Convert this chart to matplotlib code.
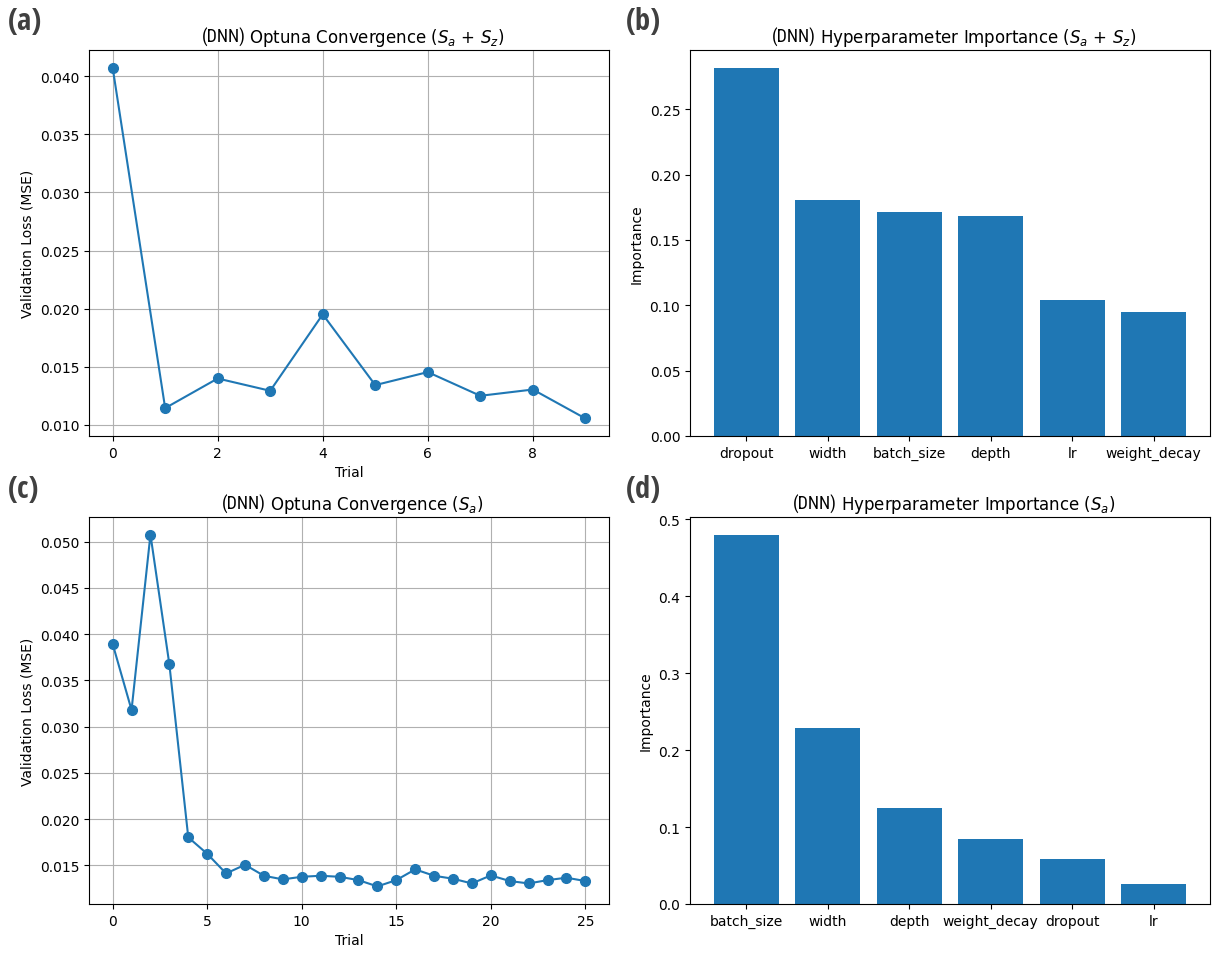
import matplotlib.pyplot as plt
from matplotlib import font_manager

# optuna results for the DNN model
trials_az = list(range(10))
loss_az = [0.04075, 0.01144, 0.01399, 0.01293, 0.01951, 0.01342, 0.01454, 0.01250, 0.01304, 0.01055]

params_az = ["dropout", "width", "batch_size", "depth", "lr", "weight_decay"]
imp_az = [0.2813, 0.1804, 0.1713, 0.1682, 0.1040, 0.0948]

trials_a = list(range(26))
loss_a = [0.03895, 0.0318, 0.05076, 0.03673, 0.01803, 0.01626, 0.01413, 0.01507,
          0.01388, 0.01349, 0.01377, 0.01388, 0.01377, 0.01341, 0.01273, 0.01341,
          0.01457, 0.01388, 0.01356, 0.01305, 0.01392, 0.01331, 0.01305, 0.01341,
          0.01367, 0.01331]

params_a = ["batch_size", "width", "depth", "weight_decay", "dropout", "lr"]
imp_a = [0.479, 0.229, 0.125, 0.0846, 0.0586, 0.026]

# pick a condensed family for the labels, whichever is around
fonts = font_manager.fontManager.ttflist
bold_names = {f.name for f in fonts if f.weight in (700, "bold")}
regular_names = {f.name for f in fonts if f.weight in (400, "normal", "regular") and f.style == "normal"}
wish = ["Open Sans Condensed", "Roboto Condensed", "Fira Sans Condensed",
        "IBM Plex Sans Condensed", "Liberation Sans Narrow", "Archivo Narrow",
        "PT Sans Narrow", "Noto Sans"]
narrow = next((n for n in wish if n in regular_names), "DejaVu Sans")
narrow_bold = next((n for n in wish if n in bold_names), "DejaVu Sans")

fig = plt.figure(figsize=(12.13, 9.54), dpi=100)
W, H = 1213, 954


def box(l, t, r, b):
    return [l / W, 1 - b / H, (r - l) / W, (b - t) / H]


ax_a = fig.add_axes(box(89, 51, 609, 437))
ax_b = fig.add_axes(box(690, 51, 1210, 437))
ax_c = fig.add_axes(box(89, 518, 609, 905))
ax_d = fig.add_axes(box(690, 518, 1210, 905))

ax_a.plot(trials_az, loss_az, marker="o", markersize=7)
ax_a.set_xlabel("Trial")
ax_a.set_ylabel("Validation Loss (MSE)")
ax_a.grid(True)

ax_b.bar(params_az, imp_az)
ax_b.set_ylabel("Importance")

ax_c.plot(trials_a, loss_a, marker="o", markersize=7)
ax_c.set_xlabel("Trial")
ax_c.set_ylabel("Validation Loss (MSE)")
ax_c.grid(True)

ax_d.bar(params_a, imp_a)
ax_d.set_ylabel("Importance")

titles = [
    (ax_a, "Optuna Convergence ($S_a$ + $S_z$)"),
    (ax_b, "Hyperparameter Importance ($S_a$ + $S_z$)"),
    (ax_c, "Optuna Convergence ($S_a$)"),
    (ax_d, "Hyperparameter Importance ($S_a$)"),
]

# lay out the full title first, then redraw it with a narrower "(DNN)" prefix
for ax, rest in titles:
    ax.set_title("(DNN) " + rest)
fig.canvas.draw()
renderer = fig.canvas.get_renderer()
for ax, rest in titles:
    bb = ax.title.get_window_extent(renderer)
    tr = ax.title.get_transform()
    ax.set_title("")
    x1 = ax.transAxes.inverted().transform((bb.x1, 0))[0]
    t = ax.text(x1, 1.0, rest, transform=tr, ha="right", va="baseline", fontsize=12)
    rb = t.get_window_extent(renderer)
    x0 = ax.transAxes.inverted().transform((rb.x0 - 4, 0))[0]
    ax.text(x0, 1.0, "(DNN)", transform=tr, ha="right", va="baseline",
            fontsize=13, family=narrow, fontweight="normal")

for lab, (px, py) in zip("abcd", [(8, 30), (626, 30), (8, 498), (626, 498)]):
    fig.text(px / W, 1 - py / H, f"({lab})", fontsize=22, fontweight="bold",
             family=narrow_bold, color="#404040", va="baseline")

fig.savefig("out.png", dpi=100)
